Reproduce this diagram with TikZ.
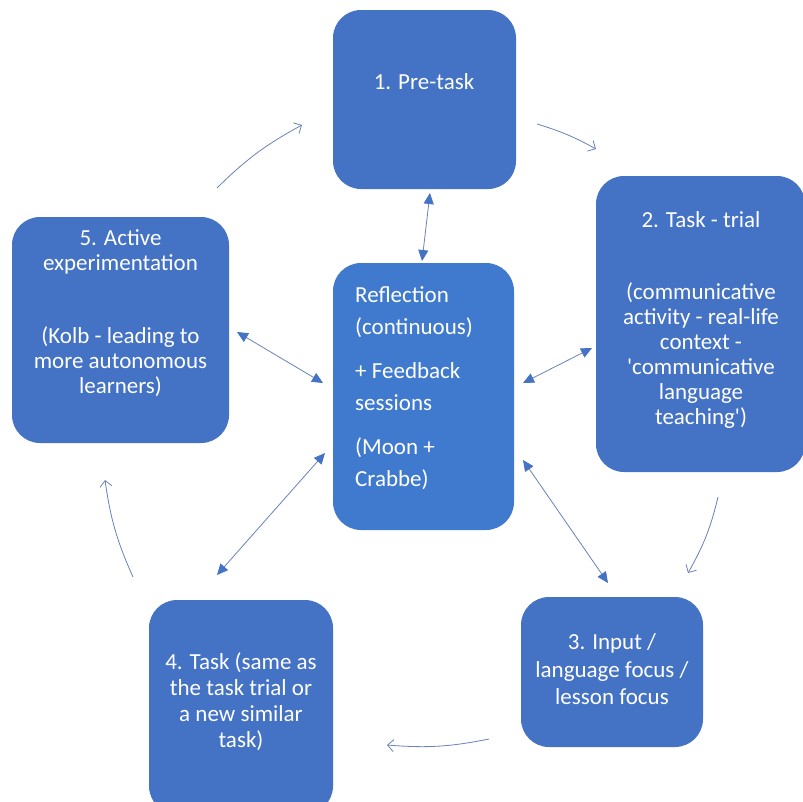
\documentclass[tikz,border=0pt]{standalone}
\usepackage{fontspec}
\setmainfont{Carlito}
\usetikzlibrary{arrows.meta}
\definecolor{boxblue}{RGB}{68,114,196}
\definecolor{ctrblue}{RGB}{64,122,206}
\definecolor{arrowc}{RGB}{105,130,185}
\begin{document}
\begin{tikzpicture}[x=1pt,y=-1pt,
  box/.style={fill=boxblue, rounded corners=28pt, inner sep=0pt, outer sep=0pt},
  txt/.style={text=white, font=\fontsize{23}{25}\selectfont, align=center, inner sep=0pt},
  cyc/.style={draw=arrowc, line width=0.8pt, -{Straight Barb[length=6pt,width=12pt]}},
  dbl/.style={draw=arrowc, line width=0.8pt, {Triangle[length=11pt,width=10pt,color=boxblue]}-{Triangle[length=11pt,width=10pt,color=boxblue]}}]
\useasboundingbox[fill=white] (0,0) rectangle (803,801);

% boxes
\node[box, minimum width=183pt, minimum height=179pt] (b1) at (424.5,99.5) {};
\node[box, minimum width=209pt, minimum height=296pt] (b2) at (700.5,324) {};
\node[box, minimum width=182pt, minimum height=150pt] (b3) at (612,672) {};
\node[box, minimum width=184pt, minimum height=214pt] (b4) at (241,707) {};
\node[box, minimum width=217pt, minimum height=226pt] (b5) at (120.5,330) {};
\node[box, fill=ctrblue, minimum width=181pt, minimum height=267pt] (bc) at (423.5,396.5) {};

% texts
\node[txt] (t1) at (424,82) {1. Pre-task};
\node[txt] (t2) at (701,320) {2. Task - trial\\[47pt](communicative\\activity - real-life\\context -\\\textquotesingle communicative\\language\\teaching\textquotesingle)};
\node[txt, font=\fontsize{23}{27.5}\selectfont] (t3) at (612,669.5) {3. Input /\\language focus /\\lesson focus};
\node[txt, font=\fontsize{23}{26}\selectfont] (t4) at (241,702) {4. Task (same as\\the task trial or\\a new similar\\task)};
\node[txt] (t5) at (120.5,313) {5. Active\\experimentation\\[48pt](Kolb - leading to\\more autonomous\\learners)};
\node[txt, font=\fontsize{23}{32}\selectfont, align=left, anchor=west] (tc) at (355,388) {Reflection\\(continuous)\\[12pt]+ Feedback\\sessions\\[12pt](Moon +\\Crabbe)};

% cycle arrow ends
\coordinate (c1s) at (217,188); \coordinate (c1e) at (302,125);
\coordinate (c2s) at (537,124); \coordinate (c2e) at (596,149);
\coordinate (c3s) at (718,497); \coordinate (c3e) at (688,573);
\coordinate (c4s) at (489,739); \coordinate (c4e) at (387,745);
\coordinate (c5s) at (133,577); \coordinate (c5e) at (105,480);
\draw[cyc] (c1s) to[bend left=8] (c1e);
\draw[cyc] (c2s) to[bend left=6] (c2e);
\draw[cyc] (c3s) to[bend left=8] (c3e);
\draw[cyc] (c4s) to[bend left=8] (c4e);
\draw[cyc] (c5s) to[bend left=8] (c5e);

% double arrows ends
\coordinate (d1a) at (430,193); \coordinate (d1b) at (422,261);
\coordinate (d2a) at (592,348); \coordinate (d2b) at (523,383);
\coordinate (d3a) at (523,460); \coordinate (d3b) at (608,583);
\coordinate (d4a) at (325,453); \coordinate (d4b) at (217,575);
\coordinate (d5a) at (237,332); \coordinate (d5b) at (323,383);
\draw[dbl] (d1a) -- (d1b);
\draw[dbl] (d2a) -- (d2b);
\draw[dbl] (d3a) -- (d3b);
\draw[dbl] (d4a) -- (d4b);
\draw[dbl] (d5a) -- (d5b);
\end{tikzpicture}
\end{document}
